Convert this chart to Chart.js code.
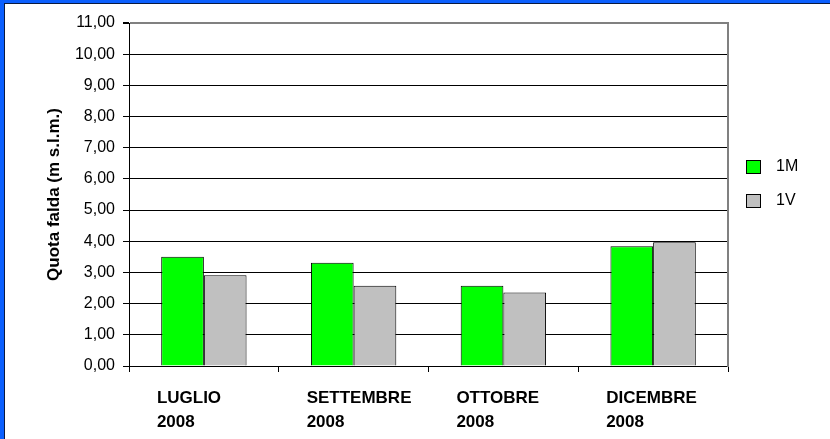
<!DOCTYPE html>
<html>
<head>
<meta charset="utf-8">
<script src="https://cdn.jsdelivr.net/npm/chart.js@4.4.1/dist/chart.umd.min.js"></script>
<style>
  html, body { margin:0; padding:0; background:#ffffff; }
  #outer { width:826px; height:436px; border-left:4px solid #0b5ffe; border-top:3px solid #0b5ffe; }
  #inner { width:825px; height:435px; border-left:1px solid #0a1a40; border-top:1px solid #0a1a40; background:#fff; }
  canvas { display:block; }
</style>
</head>
<body>
<div id="outer"><div id="inner"><canvas id="c" width="825" height="435"></canvas></div></div>
<script>
const categories = [['LUGLIO', '2008'], ['SETTEMBRE', '2008'], ['OTTOBRE', '2008'], ['DICEMBRE', '2008']];
const seriesNames = ['1M', '1V'];
const values1M = [3.50, 3.31, 2.57, 3.84];
const values1V = [2.91, 2.57, 2.36, 3.97];
const yMin = 0, yMax = 11, yStep = 1;
const yTitle = 'Quota falda (m s.l.m.)';
const colors = ['#00ff00', '#c0c0c0'];

const FONT = "'Liberation Sans', Arial, sans-serif";

function legendSwatch(color) {
  const c = document.createElement('canvas');
  c.width = 22; c.height = 14;
  const g = c.getContext('2d');
  g.fillStyle = color;
  g.fillRect(0.5, 0.5, 14, 13);
  g.strokeStyle = '#000';
  g.lineWidth = 1;
  g.strokeRect(0.5, 0.5, 14, 13);
  return c;
}

new Chart(document.getElementById('c'), {
  type: 'bar',
  data: {
    labels: categories,
    datasets: [
      { label: seriesNames[0], data: values1M, backgroundColor: colors[0], borderColor: '#000', borderWidth: 1 },
      { label: seriesNames[1], data: values1V, backgroundColor: colors[1], borderColor: '#000', borderWidth: 1 }
    ]
  },
  options: {
    responsive: false,
    animation: false,
    datasets: { bar: { categoryPercentage: 0.57, barPercentage: 1.0 } },
    layout: { padding: { left: 0, right: 30, top: 19, bottom: 0 } },
    plugins: {
      tooltip: { enabled: false },
      legend: {
        position: 'right',
        align: 'start',
        maxWidth: 72,
        title: { display: true, text: '', font: { size: 10, lineHeight: 1 }, padding: { top: 108, bottom: 0 } },
        labels: {
          usePointStyle: true,
          pointStyleWidth: 22,
          padding: 18,
          color: '#000',
          font: { family: FONT, size: 16 },
          generateLabels: (chart) => chart.data.datasets.map((ds, i) => ({
            text: ds.label,
            fillStyle: ds.backgroundColor,
            strokeStyle: '#000',
            fontColor: '#000',
            lineWidth: 1,
            pointStyle: legendSwatch(ds.backgroundColor),
            datasetIndex: i,
            hidden: false
          }))
        }
      }
    },
    scales: {
      x: {
        offset: true,
        grid: { display: true, drawOnChartArea: false, drawTicks: true, tickLength: 6, offset: true, color: '#000' },
        border: { display: true, color: '#000', width: 1 },
        ticks: {
          autoSkip: false, maxRotation: 0, minRotation: 0,
          align: 'start', labelOffset: -47, padding: 14,
          color: '#000',
          font: { family: FONT, size: 17, weight: 'bold', lineHeight: 1.41 }
        },
        afterFit: (s) => { s.height = 73; }
      },
      y: {
        min: yMin, max: yMax,
        grid: {
          color: (ctx) => (ctx.tick && ctx.tick.value === yMax) ? '#808080' : '#000',
          lineWidth: (ctx) => (ctx.tick && ctx.tick.value === yMax) ? 2 : 1,
          tickLength: 6,
          tickColor: '#000'
        },
        border: { display: true, color: '#000', width: 1 },
        ticks: {
          stepSize: yStep,
          padding: 8,
          color: '#000',
          font: { family: FONT, size: 16 },
          callback: (v) => Number(v).toFixed(2).replace('.', ',')
        },
        title: {
          display: true, text: yTitle, color: '#000',
          font: { family: FONT, size: 17, weight: 'bold', lineHeight: 1.2 },
          padding: { top: 39, bottom: 0 }
        },
        afterFit: (s) => { s.width = 124; }
      },
      y2: {
        position: 'right',
        min: yMin, max: yMax,
        grid: { display: false },
        ticks: { display: false },
        border: { display: true, color: '#808080', width: 2 },
        afterFit: (s) => { s.width = 0; }
      }
    }
  }
});
</script>
</body>
</html>
